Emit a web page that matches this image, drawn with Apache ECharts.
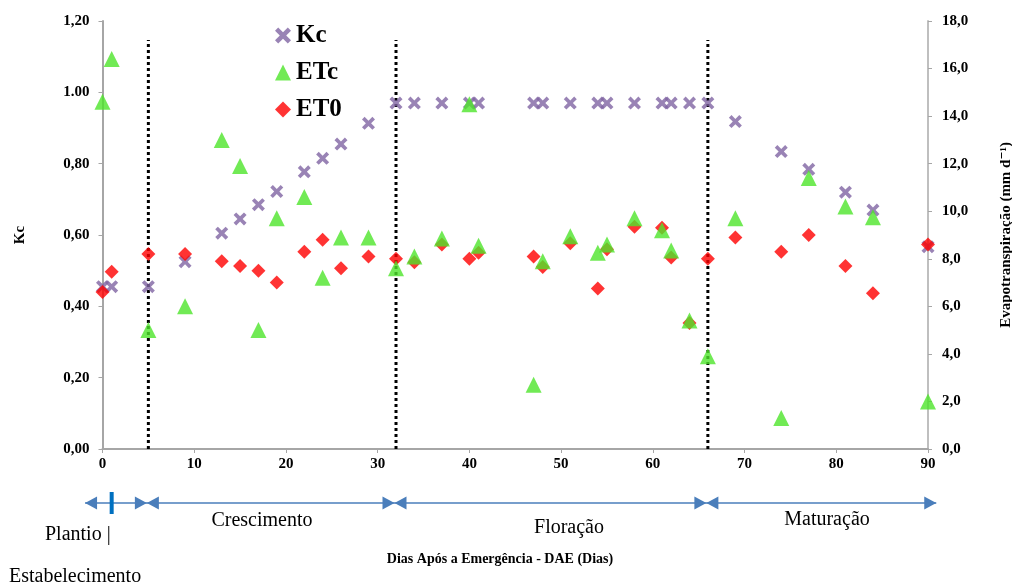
<!DOCTYPE html>
<html>
<head>
<meta charset="utf-8">
<script src="https://cdn.jsdelivr.net/npm/echarts@6/dist/echarts.min.js"></script>
<style>
  html, body { margin: 0; padding: 0; background: #fff; }
  #chart { width: 1012px; height: 585px; }
</style>
</head>
<body>
<div id="chart"></div>
<script>
// Days after emergence (DAE) and crop coefficient Kc
const kcDays   = [0, 1, 5, 9, 13, 15, 17, 19, 22, 24, 26, 29, 32, 34, 37, 40, 41, 47, 48, 51, 54, 55, 58, 61, 62, 64, 66, 69, 74, 77, 81, 84, 90];
const kcValues = [0.455, 0.455, 0.455, 0.525, 0.605, 0.645, 0.685, 0.722, 0.777, 0.815, 0.855, 0.913, 0.970, 0.970, 0.970, 0.970, 0.970, 0.970, 0.970, 0.970, 0.970, 0.970, 0.970, 0.970, 0.970, 0.970, 0.970, 0.918, 0.834, 0.784, 0.720, 0.670, 0.567];

// Crop evapotranspiration ETc (mm d-1)
const etcDays   = [0, 1, 5, 9, 13, 15, 17, 19, 22, 24, 26, 29, 32, 34, 37, 40, 41, 47, 48, 51, 54, 55, 58, 61, 62, 64, 66, 69, 74, 77, 81, 84, 90];
const etcValues = [14.6, 16.4, 5.0, 6.0, 13.0, 11.9, 5.0, 9.7, 10.6, 7.2, 8.9, 8.9, 7.6, 8.1, 8.85, 14.5, 8.55, 2.7, 7.9, 8.95, 8.25, 8.6, 9.7, 9.2, 8.35, 5.4, 3.9, 9.7, 1.3, 11.4, 10.2, 9.75, 2.0];

// Reference evapotranspiration ET0 (mm d-1)
const et0Days   = [0, 1, 5, 9, 13, 15, 17, 19, 22, 24, 26, 29, 32, 34, 37, 40, 41, 47, 48, 51, 54, 55, 58, 61, 62, 64, 66, 69, 74, 77, 81, 84, 90];
const et0Values = [6.6, 7.45, 8.2, 8.2, 7.9, 7.7, 7.5, 7.0, 8.3, 8.8, 7.6, 8.1, 8.0, 7.85, 8.6, 8.0, 8.25, 8.1, 7.65, 8.65, 6.75, 8.4, 9.35, 9.3, 8.05, 5.3, 8.0, 8.9, 8.3, 9.0, 7.7, 6.55, 8.6];

// Phase boundaries (DAE) and phase names
const phaseBounds = [5, 32, 66];
const phaseNames  = ['Crescimento', 'Floração', 'Maturação'];
const firstPhase  = ['Plantio |', 'Estabelecimento'];

// Axis tick labels
const kcTickLabels = ['0,00', '0,20', '0,40', '0,60', '0,80', '1.00', '1,20'];

const SERIF = '"Liberation Serif", "DejaVu Serif", serif';
const pair = (xs, ys) => xs.map((x, i) => [x, ys[i]]);

const chart = echarts.init(document.getElementById('chart'), null, { renderer: 'canvas' });

const crossPath = 'path://M0,2 L2,0 L5,3 L8,0 L10,2 L7,5 L10,8 L8,10 L5,7 L2,10 L0,8 L3,5 Z';

const boundarySeries = phaseBounds.map(d => ({
  type: 'line',
  yAxisIndex: 0,
  data: [[d, 0], [d, 1.147]],
  symbol: 'none',
  silent: true,
  lineStyle: { color: '#000', width: 3, type: [3, 3] },
  z: 1
}));

const axisLabelStyle = { color: '#000', fontFamily: SERIF, fontWeight: 'bold', fontSize: 15 };

chart.setOption({
  animation: false,
  backgroundColor: '#fff',
  grid: { left: 102.5, right: 84, top: 21, bottom: 136, outerBoundsMode: 'none' },
  legend: {
    orient: 'vertical',
    left: 270,
    top: 18,
    itemGap: 12,
    itemWidth: 16,
    itemHeight: 16,
    data: ['Kc', 'ETc', 'ET0'],
    textStyle: { color: '#000', fontFamily: SERIF, fontWeight: 'bold', fontSize: 25 }
  },
  xAxis: {
    type: 'value',
    min: 0, max: 90, interval: 10,
    axisLine: { lineStyle: { color: '#A6A6A6', width: 2 } },
    axisTick: { show: true, length: 4, lineStyle: { color: '#A6A6A6' } },
    splitLine: { show: false },
    axisLabel: Object.assign({ margin: 8 }, axisLabelStyle)
  },
  yAxis: [
    {
      type: 'value',
      min: 0, max: 1.2, interval: 0.2,
      name: 'Kc',
      nameLocation: 'middle',
      nameRotate: 90,
      nameGap: 75,
      nameTextStyle: { color: '#000', fontFamily: SERIF, fontWeight: 'bold', fontSize: 15 },
      axisLine: { show: true, lineStyle: { color: '#A6A6A6', width: 2 } },
      axisTick: { show: true, length: 4, lineStyle: { color: '#A6A6A6' } },
      splitLine: { show: false },
      axisLabel: Object.assign({
        margin: 13,
        formatter: v => kcTickLabels[Math.round(v / 0.2)]
      }, axisLabelStyle)
    },
    {
      type: 'value',
      min: 0, max: 18, interval: 2,
      position: 'right',
      name: 'Evapotranspiração (mm d⁻¹)',
      nameLocation: 'middle',
      nameRotate: 90,
      nameGap: 71,
      nameTextStyle: { color: '#000', fontFamily: SERIF, fontWeight: 'bold', fontSize: 15 },
      axisLine: { show: true, lineStyle: { color: '#BFBFBF', width: 2 } },
      axisTick: { show: true, length: 4, lineStyle: { color: '#A6A6A6' } },
      splitLine: { show: false },
      axisLabel: Object.assign({
        margin: 14,
        formatter: v => v.toFixed(1).replace('.', ',')
      }, axisLabelStyle)
    }
  ],
  series: boundarySeries.concat([
    {
      name: 'Kc',
      type: 'scatter',
      yAxisIndex: 0,
      symbol: crossPath,
      symbolSize: 13,
      itemStyle: { color: '#8064A2' },
      data: pair(kcDays, kcValues),
      z: 3
    },
    {
      name: 'ET0',
      type: 'scatter',
      yAxisIndex: 1,
      symbol: 'diamond',
      symbolSize: 14,
      itemStyle: { color: '#FF0000' },
      data: pair(et0Days, et0Values),
      z: 4
    },
    {
      name: 'ETc',
      type: 'scatter',
      yAxisIndex: 1,
      symbol: 'triangle',
      symbolSize: 16,
      itemStyle: { color: '#4DE52B' },
      data: pair(etcDays, etcValues),
      z: 5
    }
  ])
});

// Phase timeline under the x axis
const px = d => chart.convertToPixel({ xAxisIndex: 0 }, d);
const lineY = 503;
const ah = 6.5;     // arrowhead half-height
const aw = 12;      // arrowhead length
const blue = '#4A7EBB';
const g = [];

const xStart = px(-1.9), xEnd = px(90.9);
g.push({ type: 'line', shape: { x1: xStart, y1: lineY, x2: xEnd, y2: lineY }, style: { stroke: blue, lineWidth: 1.5 } });
// outer arrowheads
g.push({ type: 'polygon', shape: { points: [[xStart, lineY], [xStart + aw, lineY - ah], [xStart + aw, lineY + ah]] }, style: { fill: blue } });
g.push({ type: 'polygon', shape: { points: [[xEnd, lineY], [xEnd - aw, lineY - ah], [xEnd - aw, lineY + ah]] }, style: { fill: blue } });
// bow-tie markers at each phase boundary
phaseBounds.forEach(d => {
  const x = px(d) - 1.5;
  g.push({ type: 'polygon', shape: { points: [[x, lineY], [x - aw, lineY - ah], [x - aw, lineY + ah]] }, style: { fill: blue } });
  g.push({ type: 'polygon', shape: { points: [[x, lineY], [x + aw, lineY - ah], [x + aw, lineY + ah]] }, style: { fill: blue } });
});
// planting marker
g.push({ type: 'rect', shape: { x: px(1) - 2, y: 492, width: 4, height: 22 }, style: { fill: '#0070C0' } });

const phaseFont = '20px ' + SERIF;
const labelPos = [[262, 521], [569, 528], [827, 520]];
phaseNames.forEach((name, i) => {
  g.push({ type: 'text', style: { text: name, x: labelPos[i][0], y: labelPos[i][1], font: phaseFont, fill: '#000', align: 'center', verticalAlign: 'middle' } });
});
g.push({ type: 'text', style: { text: firstPhase[0], x: 45, y: 535, font: phaseFont, fill: '#000', align: 'left', verticalAlign: 'middle' } });
g.push({ type: 'text', style: { text: firstPhase[1], x: 9, y: 577, font: phaseFont, fill: '#000', align: 'left', verticalAlign: 'middle' } });

// x axis title
g.push({ type: 'text', style: { text: 'Dias Após a Emergência - DAE (Dias)', x: 500, y: 559, font: 'bold 14px ' + SERIF, fill: '#000', align: 'center', verticalAlign: 'middle' } });

chart.setOption({ graphic: g });
</script>
</body>
</html>
